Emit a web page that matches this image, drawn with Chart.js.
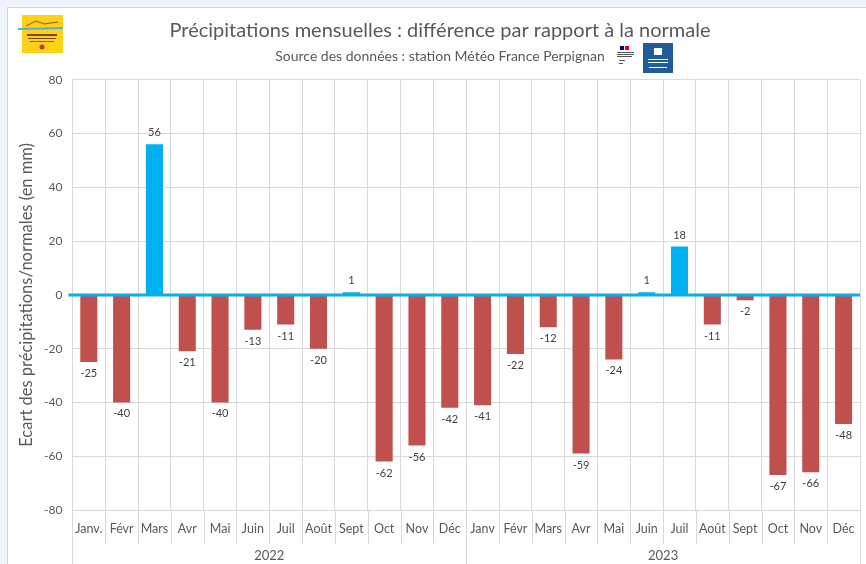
<!DOCTYPE html>
<html>
<head>
<meta charset="utf-8">
<script src="https://cdn.jsdelivr.net/npm/chart.js@4/dist/chart.umd.min.js"></script>
<style>
  html, body { margin: 0; padding: 0; background: #eef2fa; }
  body { width: 866px; height: 564px; overflow: hidden; position: relative; }
  #panel { position: absolute; left: 7px; top: 7px; width: 859px; height: 557px; background: #fff; border-left: 1px solid #d4d4d4; border-top: 1px solid #d4d4d4; }
  #chart_pluie { position: absolute; left: 0; top: 0; }
</style>
</head>
<body>
<div id="panel"><canvas id="chart_pluie" width="858" height="556"></canvas></div>
<script>
const months = ['Janv.', 'Févr', 'Mars', 'Avr', 'Mai', 'Juin', 'Juil', 'Août', 'Sept', 'Oct', 'Nov', 'Déc',
                'Janv', 'Févr', 'Mars', 'Avr', 'Mai', 'Juin', 'Juil', 'Août', 'Sept', 'Oct', 'Nov', 'Déc'];
const years = ['2022', '2023'];
const ecart2022 = [-25, -40, 56, -21, -40, -13, -11, -20, 1, -62, -56, -42];
const ecart2023 = [-41, -22, -12, -59, -24, 1, 18, -11, -2, -67, -66, -48];
const yTicks = [-80, -60, -40, -20, 0, 20, 40, 60, 80];

const ecart = ecart2022.concat(ecart2023);

const COLORS = {
    pluie: '#00b0f0',
    sec: '#c0504d',
    texte: '#595959',
    grille: '#d9d9d9',
};
const FONT = 'Lato, "Open Sans", sans-serif';

// logos, séparateurs sous l'axe, ligne du zéro, étiquettes des barres
const decor = {
    id: 'decor',
    beforeDraw(chart) {
        const c = chart.ctx;
        c.save();
        // logo nappe
        c.fillStyle = '#fcd116';
        c.fillRect(14, 7, 41, 38);
        c.strokeStyle = '#4fb3d9';
        c.lineWidth = 2;
        c.beginPath(); c.moveTo(10, 21); c.lineTo(55, 20); c.stroke();
        c.strokeStyle = '#c0392b';
        c.lineWidth = 1;
        c.beginPath(); c.moveTo(18, 18); c.lineTo(28, 13); c.lineTo(36, 16); c.lineTo(50, 14); c.stroke();
        c.fillStyle = '#7a4a1a';
        c.fillRect(19, 26, 30, 2);
        c.fillRect(20, 30, 28, 1);
        c.fillStyle = '#c0392b';
        c.fillRect(22, 33, 24, 1);
        c.beginPath(); c.arc(34, 39, 2.5, 0, Math.PI * 2); c.fill();
        // République française
        c.fillStyle = '#000091'; c.fillRect(612, 38, 4, 4);
        c.fillStyle = '#e1000f'; c.fillRect(617, 38, 4, 4);
        c.fillStyle = '#555';
        c.fillRect(609, 44, 17, 1); c.fillRect(609, 46, 17, 1); c.fillRect(609, 48, 15, 1);
        c.fillRect(611, 52, 6, 1); c.fillRect(611, 55, 4, 1);
        // Météo France
        c.fillStyle = '#1f5c99';
        c.fillRect(635, 35, 30, 30);
        c.fillStyle = '#fff';
        c.fillRect(646, 40, 8, 7);
        c.fillRect(640, 51, 20, 1); c.fillRect(640, 54, 20, 1);
        c.fillRect(641, 59, 18, 1);
        c.restore();
    },
    afterDraw(chart) {
        const c = chart.ctx;
        const x = chart.scales.x;
        const area = chart.chartArea;
        c.save();
        c.strokeStyle = COLORS.grille;
        c.lineWidth = 1;
        const half = (x.getPixelForValue(1) - x.getPixelForValue(0)) / 2;
        for (let i = 0; i <= months.length; i++) {
            const px = Math.round(x.getPixelForValue(i) - half) + 0.5;
            const full = (i === 0 || i === 12 || i === 24);
            c.beginPath();
            c.moveTo(px, area.bottom);
            c.lineTo(px, full ? chart.height : x.bottom - 4);
            c.stroke();
        }
        c.restore();
    },
    afterDatasetsDraw(chart) {
        const c = chart.ctx;
        const y = chart.scales.y;
        const area = chart.chartArea;
        const y0 = y.getPixelForValue(0);
        c.save();
        c.strokeStyle = COLORS.pluie;
        c.lineWidth = 3;
        c.beginPath();
        c.moveTo(area.left - 4, y0);
        c.lineTo(area.right, y0);
        c.stroke();

        c.fillStyle = '#404040';
        c.font = '11px ' + FONT;
        c.textAlign = 'center';
        const meta = chart.getDatasetMeta(0);
        meta.data.forEach((bar, i) => {
            const v = ecart[i];
            if (v >= 0) {
                c.textBaseline = 'bottom';
                c.fillText(String(v), bar.x, bar.y - 6);
            } else {
                c.textBaseline = 'top';
                c.fillText(String(v), bar.x, bar.y + 6);
            }
        });
        c.restore();
    }
};

const ctx = document.getElementById('chart_pluie');

new Chart(ctx, {
    type: 'bar',
    data: {
        labels: months,
        datasets: [{
            label: 'Écart',
            data: ecart,
            backgroundColor: ecart.map(v => v >= 0 ? COLORS.pluie : COLORS.sec),
            borderWidth: 0,
            categoryPercentage: 1,
            barPercentage: 0.52,
        }]
    },
    options: {
        responsive: false,
        animation: false,
        layout: { padding: { left: 12, right: 6, top: 0, bottom: 0 } },
        plugins: {
            legend: { display: false },
            tooltip: { enabled: false },
            title: {
                display: true,
                text: 'Précipitations mensuelles : différence par rapport à la normale',
                color: COLORS.texte,
                font: { family: FONT, size: 20, weight: 'normal' },
                padding: { top: 11, bottom: 5 },
            },
            subtitle: {
                display: true,
                text: 'Source des données : station Météo France Perpignan',
                color: COLORS.texte,
                font: { family: FONT, size: 14 },
                padding: { top: 0, bottom: 15 },
            },
        },
        scales: {
            x: {
                type: 'category',
                grid: {
                    offset: true,
                    color: COLORS.grille,
                    drawTicks: false,
                },
                border: { color: COLORS.grille },
                ticks: {
                    color: COLORS.texte,
                    font: { family: FONT, size: 12.5, lineHeight: '38px' },
                    maxRotation: 0,
                    autoSkip: false,
                    padding: 0,
                },
            },
            x2: {
                type: 'category',
                labels: years,
                position: 'bottom',
                offset: true,
                grid: { display: false, drawTicks: false },
                border: { display: false },
                ticks: {
                    color: COLORS.texte,
                    font: { family: FONT, size: 13, lineHeight: '16px' },
                    padding: 0,
                },
            },
            y: {
                min: -80,
                max: 80,
                afterBuildTicks(scale) {
                    scale.ticks = yTicks.map(v => ({ value: v }));
                },
                grid: {
                    color: COLORS.grille,
                    drawTicks: false,
                },
                border: { display: false },
                ticks: {
                    color: COLORS.texte,
                    font: { family: FONT, size: 12 },
                    padding: 10,
                },
                title: {
                    display: true,
                    text: 'Ecart des précipitations/normales (en mm)',
                    color: COLORS.texte,
                    font: { family: FONT, size: 16.5, lineHeight: 0.85 },
                    padding: { top: 0, bottom: 0 },
                },
            },
        },
    },
    plugins: [decor],
});
</script>
</body>
</html>
